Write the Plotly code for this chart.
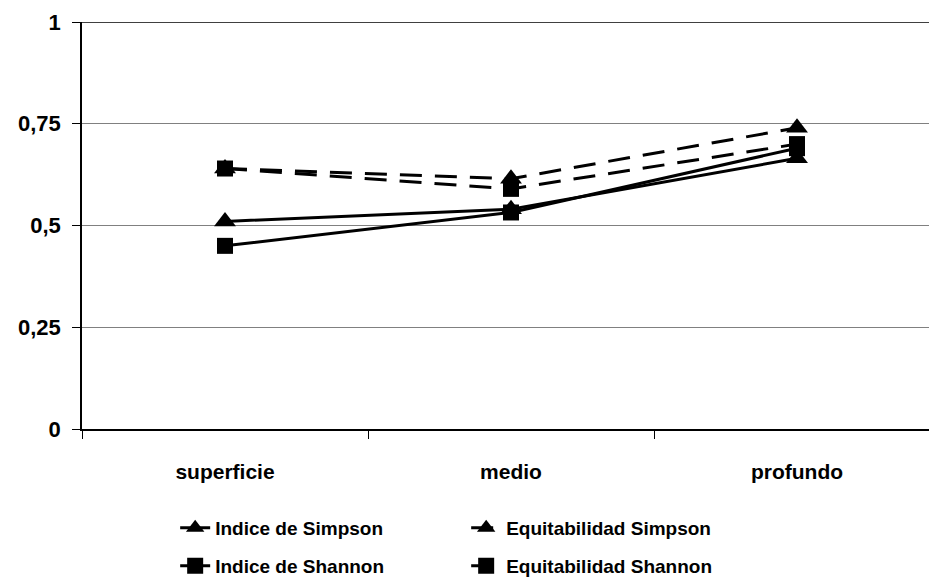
import plotly.graph_objects as go

# Depth layers along the x axis
categories = ["superficie", "medio", "profundo"]

# Diversity indices per layer
indice_simpson = [0.51, 0.54, 0.665]
equit_simpson = [0.64, 0.615, 0.74]
indice_shannon = [0.45, 0.532, 0.69]
equit_shannon = [0.64, 0.59, 0.70]

y_ticks = [0, 0.25, 0.5, 0.75, 1]
y_tick_text = ["0", "0,25", "0,5", "0,75", "1"]

FONT = "Liberation Sans, Arial, sans-serif"

series = [
    ("Indice de Simpson", indice_simpson, "solid", "triangle-up", 19, "legend"),
    ("Equitabilidad Simpson", equit_simpson, "22px,13px", "triangle-up", 19, "legend"),
    ("Indice de Shannon", indice_shannon, "solid", "square", 16, "legend2"),
    ("Equitabilidad Shannon", equit_shannon, "22px,13px", "square", 16, "legend2"),
]

fig = go.Figure()
for name, vals, dash, symbol, size, leg in series:
    fig.add_trace(go.Scatter(
        x=categories, y=vals, name=name, mode="lines+markers",
        line=dict(color="black", width=3, dash=dash),
        marker=dict(symbol=symbol, size=size, color="black"),
        legend=leg,
    ))

legend_common = dict(
    orientation="h", xanchor="left", yanchor="middle",
    font=dict(family=FONT, size=19, color="black", weight="bold"),
    entrywidth=246, entrywidthmode="pixels",
    bgcolor="rgba(0,0,0,0)", itemwidth=30,
)

fig.update_layout(
    width=929, height=585,
    margin=dict(l=82, r=0, t=22, b=155),
    plot_bgcolor="white", paper_bgcolor="white",
    showlegend=True,
    legend=dict(x=0.11, y=-0.24, **legend_common),
    legend2=dict(x=0.11, y=-0.338, **legend_common),
    xaxis=dict(
        type="category", range=[-0.5, 2.4615],
        tickson="boundaries", ticks="outside", ticklen=8, tickwidth=1,
        tickcolor="black", showline=True, linecolor="black", linewidth=1.5,
        showgrid=False, ticklabelstandoff=23,
        tickfont=dict(family=FONT, size=21, color="black", weight="bold"),
    ),
    yaxis=dict(
        range=[0, 1], tickvals=y_ticks, ticktext=y_tick_text,
        ticks="outside", ticklen=8, tickcolor="black",
        showline=True, linecolor="black", linewidth=1.5,
        showgrid=True, gridcolor="#808080", gridwidth=1,
        zeroline=False, ticklabelstandoff=7,
        tickfont=dict(family=FONT, size=22, color="black", weight="bold"),
    ),
    shapes=[dict(type="line", xref="paper", yref="y", x0=0, x1=1, y0=1, y1=1,
                 line=dict(color="black", width=1.5))],
)

fig.write_html("out.html")
